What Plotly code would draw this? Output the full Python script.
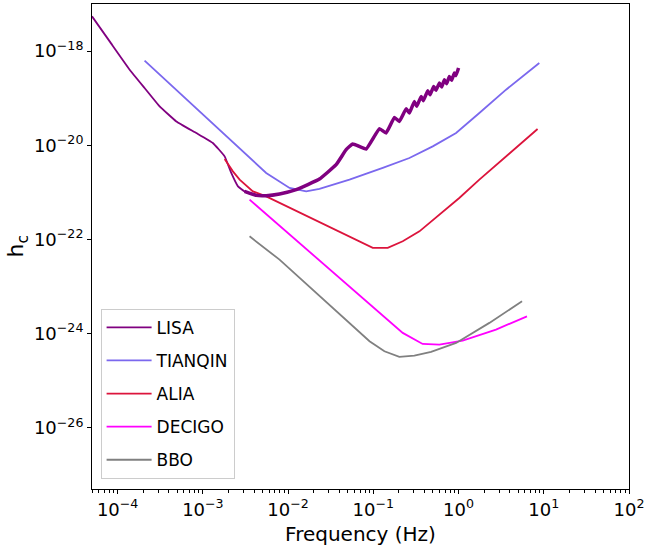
import plotly.graph_objects as go

# sensitivity curves (frequency in Hz, characteristic strain)
lisa_f = [5.0e-5, 8.06e-5, 1.384e-4, 2.07e-4, 3.11e-4, 4.88e-4, 8.38e-4, 1.309e-3,
          1.80e-3, 2.153e-3, 2.58e-3, 3.083e-3, 4.227e-3, 5.53e-3, 7.93e-3, 1.245e-2,
          2.333e-2, 3.664e-2, 4.797e-2, 5.74e-2, 8.24e-2, 0.118, 0.141, 0.177, 0.202,
          0.243, 0.265, 0.303, 0.323, 0.364, 0.387, 0.435, 0.463, 0.511, 0.544, 0.596,
          0.634, 0.682, 0.726, 0.780, 0.830, 0.893, 0.931, 1.0]
lisa_h = [5.46e-18, 1.607e-18, 4.03e-19, 1.648e-19, 6.70e-20, 3.21e-20, 1.82e-20, 1.12e-20,
          5.81e-21, 2.58e-21, 1.34e-21, 1.05e-21, 8.63e-22, 8.51e-22, 9.25e-22, 1.14e-21,
          1.92e-21, 3.87e-21, 8.07e-21, 1.067e-20, 8.34e-21, 2.25e-20, 1.82e-20, 3.91e-20, 3.21e-20,
          5.98e-20, 4.85e-20, 8.55e-20, 6.70e-20, 1.09e-19, 8.85e-20, 1.44e-19, 1.186e-19, 1.78e-19,
          1.466e-19, 2.10e-19, 1.73e-19, 2.47e-19, 2.03e-19, 2.90e-19, 2.39e-19, 3.43e-19, 3.01e-19,
          4.38e-19]
lisa_thick_from = 11  # the curve is drawn heavier from the bucket onwards

tianqin_f = [2.07e-4, 2.056e-3, 5.53e-3, 1.04e-2, 1.63e-2, 2.333e-2, 5.25e-2, 0.129, 0.265,
             0.498, 0.936, 1.754, 3.61, 8.86]
tianqin_h = [6.25e-19, 1.315e-20, 2.58e-21, 1.24e-21, 1.05e-21, 1.18e-21, 1.86e-21, 3.30e-21,
             5.37e-21, 9.48e-21, 1.82e-20, 4.85e-20, 1.514e-19, 5.58e-19]

alia_f = [1.80e-3, 2.25e-3, 2.70e-3, 3.86e-3, 5.53e-3, 1.245e-2, 3.34e-2, 6.30e-2, 9.85e-2,
          0.1476, 0.2213, 0.3475, 1.02, 1.754, 2.51, 8.46]
alia_h = [5.12e-21, 2.79e-21, 1.86e-21, 1.05e-21, 8.22e-22, 4.08e-22, 1.75e-22, 9.91e-23,
          6.61e-23, 6.61e-23, 9.12e-23, 1.486e-22, 7.60e-22, 1.86e-21, 3.30e-21, 2.22e-20]

decigo_f = [3.53e-3, 0.2213, 0.379, 0.596, 1.118, 2.75, 6.35]
decigo_h = [7.00e-22, 1.035e-24, 6.04e-25, 5.83e-25, 7.10e-25, 1.216e-24, 2.33e-24]

bbo_f = [3.53e-3, 7.93e-3, 9.02e-2, 0.135, 0.202, 0.303, 0.476, 0.936, 2.30, 5.56]
bbo_h = [1.164e-22, 3.72e-23, 6.87e-25, 4.21e-25, 3.20e-25, 3.41e-25, 4.08e-25, 6.35e-25,
         1.69e-24, 4.85e-24]

x_ticks = [1e-4, 1e-3, 1e-2, 1e-1, 1e0, 1e1, 1e2]
x_labels = ["10<sup>−4</sup>", "10<sup>−3</sup>", "10<sup>−2</sup>", "10<sup>−1</sup>",
            "10<sup>0</sup>", "10<sup>1</sup>", "10<sup>2</sup>"]
y_ticks = [1e-26, 1e-24, 1e-22, 1e-20, 1e-18]
y_labels = ["10<sup>−26</sup>", "10<sup>−24</sup>", "10<sup>−22</sup>", "10<sup>−20</sup>",
            "10<sup>−18</sup>"]
x_minor = [m * 10.0 ** e for e in range(-5, 2) for m in range(2, 10)]

FONT = "DejaVu Sans"

fig = go.Figure()
series = [
    ("LISA", lisa_f, lisa_h, "#800080"),
    ("TIANQIN", tianqin_f, tianqin_h, "#7B68EE"),
    ("ALIA", alia_f, alia_h, "#DC143C"),
    ("DECIGO", decigo_f, decigo_h, "#FF00FF"),
    ("BBO", bbo_f, bbo_h, "#808080"),
]
for name, f, h, col in series:
    line = dict(color=col, width=1.8)
    if name == "LISA":
        line.update(shape="spline", smoothing=0.3)
    fig.add_trace(go.Scatter(x=f, y=h, mode="lines", name=name, legendgroup=name, line=line))

# heavier overlay of the LISA bucket and oscillating part
fig.add_trace(go.Scatter(x=lisa_f[lisa_thick_from:], y=lisa_h[lisa_thick_from:], mode="lines",
                         showlegend=False, hoverinfo="skip",
                         line=dict(color="#800080", width=3.5, shape="spline", smoothing=0.3)))

axis_common = dict(type="log", showline=True, linecolor="black", linewidth=1, mirror=True,
                   ticks="outside", ticklen=4, tickcolor="black", showgrid=False,
                   zeroline=False, automargin=False,
                   tickfont=dict(family=FONT, size=18, color="black"))

fig.update_xaxes(range=[-4.301, 2], tickvals=x_ticks, ticktext=x_labels,
                 minor=dict(tickvals=x_minor, ticks="outside", ticklen=2.5, tickcolor="black"),
                 title=dict(text="Frequency (Hz)", font=dict(family=FONT, size=20, color="black"),
                            standoff=8),
                 **axis_common)
fig.update_yaxes(range=[-27.3, -17.0], tickvals=y_ticks, ticktext=y_labels, **axis_common)

# y title placed by hand so it sits where the reference has it
fig.add_annotation(text="h<sub>c</sub>", xref="paper", yref="paper", x=-0.138, y=0.50,
                   xanchor="center", yanchor="middle", textangle=-90, showarrow=False,
                   font=dict(family=FONT, size=22, color="black"))

fig.update_layout(
    width=668, height=551,
    margin=dict(l=92, r=39, t=4, b=62),
    paper_bgcolor="white", plot_bgcolor="white",
    font=dict(family=FONT, color="black"),
    legend=dict(x=0.016, y=0.021, xanchor="left", yanchor="bottom",
                bordercolor="#cccccc", borderwidth=1, bgcolor="rgba(255,255,255,0.8)",
                font=dict(family=FONT, size=17, color="black"), tracegroupgap=8,
                itemwidth=45),
)

fig.write_html("out.html", config={"displayModeBar": False},
               post_script="document.body.style.margin='0';")
